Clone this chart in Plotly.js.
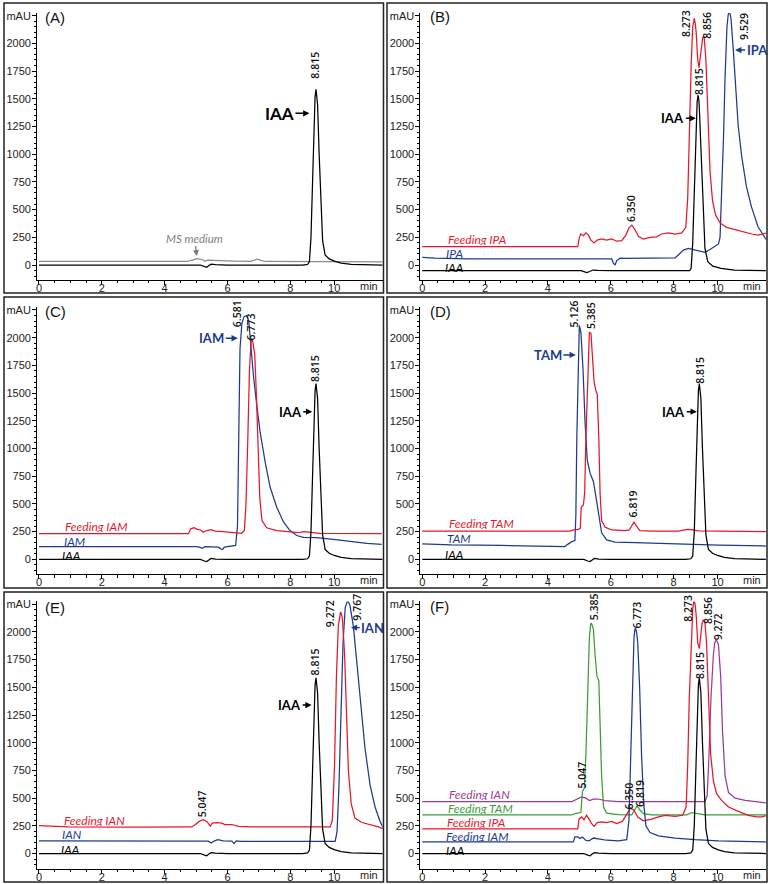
<!DOCTYPE html>
<html><head><meta charset="utf-8">
<script src="https://cdn.plot.ly/plotly-3.0.1.min.js"></script>
<style>html,body{margin:0;padding:0;background:#fff}#chart{width:770px;height:884px}</style>
</head><body><div id="chart"></div>
<script>
// ---------- DATA (time in min, absorbance in mAU) ----------
const iaaStd = [[0,0],[5.14,0],[5.27,-15],[5.34,-20],[5.41,-5],[5.48,8],[5.62,3],[6.0,0],[8.39,0],[8.55,5],[8.61,30],[8.66,250],[8.71,750],[8.76,1300],[8.79,1520],[8.82,1585],[8.85,1530],[8.87,1450],[8.92,1000],[8.98,500],[9.03,220],[9.11,90],[9.24,55],[9.40,35],[9.62,18],[9.94,7],[10.36,2],[10.95,0]];
const msMedium = [[0,32],[3.0,30],[4.72,32],[4.88,45],[5.04,57],[5.18,50],[5.27,36],[5.38,45],[5.57,42],[6.21,36],[6.74,33],[6.87,48],[6.95,52],[7.06,42],[7.22,32],[10.95,28]];

const iaaB = [[0,-50],[5.06,-50],[5.17,-62],[5.24,-68],[5.33,-58],[5.43,-45],[5.59,-48],[6.02,-50],[8.51,-50],[8.56,-30],[8.61,200],[8.66,700],[8.72,1250],[8.75,1470],[8.78,1534],[8.81,1480],[8.83,1350],[8.89,900],[8.94,450],[9.00,150],[9.09,30],[9.25,-10],[9.51,-30],[9.94,-45],[10.94,-50]];
const feedIPA_B = [[0,165],[4.95,165],[5.00,250],[5.05,280],[5.13,265],[5.21,290],[5.29,270],[5.37,225],[5.47,200],[5.57,225],[5.71,235],[5.87,225],[6.03,235],[6.19,215],[6.35,220],[6.48,270],[6.58,335],[6.67,360],[6.77,320],[6.88,260],[7.04,235],[7.25,250],[7.46,255],[7.62,280],[7.83,290],[8.05,280],[8.26,290],[8.39,340],[8.45,600],[8.50,1200],[8.56,1800],[8.61,2150],[8.64,2215],[8.66,2225],[8.69,2180],[8.72,2100],[8.77,1850],[8.81,1780],[8.86,1900],[8.90,2020],[8.93,2055],[8.96,2060],[8.98,2040],[9.03,1850],[9.09,1400],[9.16,850],[9.24,580],[9.34,450],[9.48,380],[9.69,340],[9.96,320],[10.22,300],[10.49,280],[10.70,270],[10.86,280],[10.97,290]];
const ipaStd = [[0,70],[0.40,62],[1.46,55],[6.03,55],[6.08,20],[6.14,0],[6.19,40],[6.30,62],[6.45,60],[8.05,65],[8.15,90],[8.31,135],[8.47,150],[8.63,140],[8.84,120],[9.00,115],[9.16,140],[9.32,170],[9.43,190],[9.48,250],[9.53,600],[9.59,1150],[9.64,1700],[9.70,2150],[9.74,2260],[9.77,2280],[9.80,2265],[9.83,2220],[9.90,1950],[9.98,1600],[10.06,1250],[10.17,980],[10.32,707],[10.48,525],[10.69,345],[10.97,220]];

const feedIAM_C = [[0,231],[4.76,231],[4.83,275],[4.94,285],[5.04,270],[5.15,265],[5.23,245],[5.34,260],[5.47,268],[5.61,255],[5.87,250],[6.19,240],[6.45,235],[6.54,260],[6.59,500],[6.65,1100],[6.70,1700],[6.75,1960],[6.78,1985],[6.80,1975],[6.84,1920],[6.87,1850],[6.92,1500],[6.97,1000],[7.03,550],[7.10,350],[7.25,285],[7.57,260],[7.99,245],[8.26,240],[8.42,250],[8.63,245],[8.95,235],[10.91,231]];
const iamStd = [[0,115],[5.02,115],[5.13,108],[5.20,100],[5.29,115],[5.55,115],[5.71,110],[5.79,95],[5.85,90],[5.90,110],[6.08,118],[6.26,125],[6.32,300],[6.36,1000],[6.40,1900],[6.46,2130],[6.53,2190],[6.61,2200],[6.68,2150],[6.74,1950],[6.83,1650],[6.93,1400],[7.04,1150],[7.20,880],[7.36,650],[7.57,470],[7.78,340],[7.99,260],[8.21,215],[8.42,198],[8.84,195],[9.37,180],[9.90,160],[10.44,145],[10.91,135]];

const feedTAM_D = [[0,254],[4.70,254],[4.81,265],[4.97,270],[5.03,280],[5.06,470],[5.13,490],[5.17,600],[5.21,1100],[5.27,1750],[5.32,2050],[5.37,2040],[5.42,1850],[5.47,1600],[5.53,1520],[5.57,1490],[5.62,1100],[5.66,600],[5.71,350],[5.82,290],[6.03,265],[6.45,258],[6.59,265],[6.67,310],[6.74,335],[6.82,300],[6.93,260],[7.30,254],[8.15,255],[8.42,270],[8.58,268],[8.79,256],[10.97,250]];
const tamStd = [[0,140],[0.93,130],[2.53,125],[4.54,115],[4.63,135],[4.76,160],[4.86,170],[4.89,400],[4.92,1100],[4.96,1800],[5.00,2110],[5.05,2050],[5.12,1700],[5.18,1250],[5.25,900],[5.34,780],[5.45,700],[5.52,580],[5.61,400],[5.71,240],[5.87,175],[6.14,155],[6.77,150],[7.83,140],[9.43,128],[10.97,120]];

const feedIAN_E = [[0,252],[0.93,240],[3.06,238],[4.86,240],[4.97,260],[5.10,290],[5.23,306],[5.36,285],[5.45,248],[5.52,275],[5.66,280],[5.82,275],[5.92,262],[6.14,262],[6.35,245],[6.77,240],[9.27,240],[9.34,300],[9.41,800],[9.47,1600],[9.53,2050],[9.57,2160],[9.60,2180],[9.63,2160],[9.66,2120],[9.73,1800],[9.79,1200],[9.85,750],[9.94,450],[10.06,320],[10.28,280],[10.59,260],[10.81,240],[10.97,220]];
const ianStd = [[0,114],[4.65,112],[5.39,112],[5.48,95],[5.56,110],[5.69,125],[5.87,115],[6.14,112],[6.21,90],[6.28,115],[6.45,110],[9.43,110],[9.49,200],[9.55,600],[9.62,1300],[9.68,1900],[9.75,2220],[9.79,2270],[9.82,2280],[9.86,2265],[9.90,2240],[10.01,2050],[10.11,1750],[10.22,1400],[10.38,950],[10.54,620],[10.70,420],[10.86,290],[10.97,225]];

const feedIAN_F = [[0,468],[4.76,468],[4.92,490],[5.07,510],[5.21,500],[5.32,478],[5.45,490],[5.61,492],[5.82,478],[6.24,468],[9.00,468],[9.07,520],[9.13,900],[9.19,1400],[9.27,1800],[9.31,1900],[9.35,1925],[9.39,1915],[9.43,1880],[9.50,1600],[9.56,1100],[9.64,700],[9.75,550],[9.96,500],[10.28,480],[10.59,470],[10.97,456]];
const feedTAM_F = [[0,348],[4.76,348],[4.86,360],[5.05,370],[5.10,560],[5.16,590],[5.21,900],[5.27,1500],[5.32,1950],[5.36,2070],[5.38,2080],[5.41,2060],[5.45,2020],[5.50,1800],[5.56,1600],[5.62,1560],[5.66,1200],[5.71,700],[5.77,420],[5.87,365],[6.24,352],[6.67,350],[6.75,390],[6.84,430],[6.92,395],[7.04,360],[7.30,350],[8.42,350],[8.58,370],[8.74,360],[9.00,350],[10.97,348]];
const feedIPA_F = [[0,222],[4.95,222],[4.99,310],[5.07,330],[5.15,305],[5.23,345],[5.31,310],[5.39,270],[5.47,245],[5.57,280],[5.71,285],[5.87,280],[6.03,290],[6.19,270],[6.37,290],[6.51,360],[6.63,410],[6.74,390],[6.86,330],[7.04,295],[7.30,310],[7.52,330],[7.73,345],[8.05,335],[8.29,345],[8.40,420],[8.45,800],[8.50,1400],[8.56,1900],[8.61,2200],[8.64,2270],[8.66,2285],[8.69,2240],[8.72,2150],[8.77,1900],[8.82,1850],[8.87,1980],[8.91,2080],[8.95,2110],[9.00,2080],[9.05,1900],[9.11,1450],[9.18,900],[9.27,650],[9.37,540],[9.53,480],[9.75,420],[10.06,380],[10.38,345],[10.64,330],[10.81,330],[10.97,345]];
const feedIAM_F = [[0,105],[4.81,105],[4.86,150],[4.95,150],[5.02,135],[5.10,148],[5.20,120],[5.31,115],[5.45,140],[5.61,130],[5.87,120],[6.24,115],[6.51,125],[6.58,300],[6.63,800],[6.69,1500],[6.74,1950],[6.77,2025],[6.79,2030],[6.82,2000],[6.86,1900],[6.92,1500],[6.98,900],[7.05,450],[7.12,250],[7.25,190],[7.52,160],[8.05,140],[8.68,125],[9.43,115],[10.97,105]];

const xTickLabels = ['0','2','4','6','8','10'];
const yTickLabels = ['0','250','500','750','1000','1250','1500','1750','2000','mAU'];

// ---------- STYLE ----------
const C = {blue:'#1d3a8f', red:'#e5172b', green:'#3a9c3a', purple:'#9b3a9b', gray:'#8a8a8a', black:'#000'};
const sfx = n => n === 1 ? '' : String(n);

function tr(pairs, color, n){
  return {x: pairs.map(p=>p[0]), y: pairs.map(p=>p[1]), mode:'lines', type:'scatter',
    line:{color:color, width:1.25}, xaxis:'x'+sfx(n), yaxis:'y'+sfx(n), hoverinfo:'skip', showlegend:false};
}
const data = [
  tr(msMedium, C.gray, 1), tr(iaaStd, C.black, 1),
  tr(ipaStd, C.blue, 2), tr(feedIPA_B, C.red, 2), tr(iaaB, C.black, 2),
  tr(iamStd, C.blue, 3), tr(feedIAM_C, C.red, 3), tr(iaaStd, C.black, 3),
  tr(tamStd, C.blue, 4), tr(feedTAM_D, C.red, 4), tr(iaaStd, C.black, 4),
  tr(ianStd, C.blue, 5), tr(feedIAN_E, C.red, 5), tr(iaaStd, C.black, 5),
  tr(feedIAN_F, C.purple, 6), tr(feedTAM_F, C.green, 6), tr(feedIPA_F, C.red, 6), tr(feedIAM_F, C.blue, 6), tr(iaaStd, C.black, 6)
];

const ann = [];
function peak(n, x, y, text){
  ann.push({xref:'x'+sfx(n), yref:'y'+sfx(n), x:x, y:y, text:text, textangle:-90, showarrow:false,
    font:{family:'Open Sans, sans-serif', size:10.5, weight:600, color:'#111'}});
}
function lab(n, x, y, text, color){
  ann.push({xref:'x'+sfx(n), yref:'y'+sfx(n), x:x, y:y, text:'<i>'+text+'</i>', xanchor:'left', yanchor:'middle', showarrow:false,
    borderpad:0, height:12, font:{family:'Lato, sans-serif', size:12, color:color}});
}
function arr(n, x, y, text, color, ax, size){
  ann.push({xref:'x'+sfx(n), yref:'y'+sfx(n), x:x, y:y, text:'<b>'+text+'</b>', showarrow:true, ax:ax, ay:0,
    arrowhead:2, arrowsize:0.9, arrowwidth:1.4, arrowcolor:color, standoff:0,
    font:{family:'Lato, sans-serif', size:size||13, color:color}});
}
function panel(n, x, y, text){
  ann.push({xref:'x'+sfx(n), yref:'y'+sfx(n), x:x, y:y, text:text, xanchor:'left', yanchor:'middle', showarrow:false,
    font:{family:'Liberation Sans, Arial, sans-serif', size:15, color:'#111'}});
}
function minLab(n){
  ann.push({xref:'x'+sfx(n), yref:'y'+sfx(n)+' domain', x:10.5, y:0, yanchor:'top', yshift:1, text:'min', showarrow:false,
    borderpad:0, font:{family:'Liberation Sans, Arial, sans-serif', size:11, color:'#222'}});
}

// A
panel(1,0.12,2235,'(A)'); peak(1,8.79,1799,'8.815'); arr(1,8.61,1369,'IAA',C.black,-30,17);
ann.push({xref:'x',yref:'y',x:5.02,y:81,ax:-2,ay:-18,text:'<i>MS medium</i>',showarrow:true,arrowhead:2,arrowsize:0.9,arrowwidth:1.3,arrowcolor:'#777',standoff:0,
  font:{family:'Lato, sans-serif',size:11.5,color:'#808080'}});
// B
panel(2,0.17,2240,'(B)'); peak(2,8.42,2181,'8.273'); peak(2,9.06,2166,'8.856'); peak(2,10.22,2151,'9.529'); peak(2,8.79,1654,'8.815'); peak(2,6.67,512,'6.350');
lab(2,0.78,232,'Feeding IPA',C.red); lab(2,0.72,110,'IPA',C.blue); lab(2,0.70,-22,'IAA',C.black);
arr(2,8.71,1324,'IAA',C.black,-23); arr(2,9.96,1940,'IPA',C.blue,22);
// C
panel(3,0.12,2235,'(C)'); peak(3,6.30,2220,'6.581'); peak(3,6.74,2099,'6.773'); peak(3,8.79,1717,'8.815');
lab(3,0.80,298,'Feeding IAM',C.red); lab(3,0.75,168,'IAM',C.blue); lab(3,0.70,38,'IAA',C.black);
arr(3,6.33,1995,'IAM',C.blue,-26); arr(3,8.70,1332,'IAA',C.black,-22);
// D
panel(4,0.17,2235,'(D)'); peak(4,4.83,2219,'5.126'); peak(4,5.37,2204,'5.385'); peak(4,6.72,499,'6.819'); peak(4,8.84,1710,'8.815');
lab(4,0.81,330,'Feeding TAM',C.red); lab(4,0.75,190,'TAM',C.blue); lab(4,0.70,52,'IAA',C.black);
arr(4,4.89,1844,'TAM',C.blue,-28); arr(4,8.74,1332,'IAA',C.black,-23);
// E
panel(5,0.12,2220,'(E)'); peak(5,5.18,450,'5.047'); peak(5,8.79,1725,'8.815'); peak(5,9.29,2166,'9.272'); peak(5,10.10,2220,'9.767');
lab(5,0.75,304,'Feeding IAN',C.red); lab(5,0.70,172,'IAN',C.blue); lab(5,0.67,44,'IAA',C.black);
arr(5,8.68,1340,'IAA',C.black,-22); arr(5,9.93,2038,'IAN',C.blue,22);
// F
panel(6,0.17,2230,'(F)'); peak(6,5.08,711,'5.047'); peak(6,5.45,2226,'5.385'); peak(6,6.85,2151,'6.773'); peak(6,6.59,516,'6.350'); peak(6,6.93,546,'6.819');
peak(6,8.47,2211,'8.273'); peak(6,9.09,2196,'8.856'); peak(6,9.40,2046,'9.272'); peak(6,8.84,1701,'8.815');
lab(6,0.81,540,'Feeding IAN',C.purple); lab(6,0.79,408,'Feeding TAM',C.green); lab(6,0.75,281,'Feeding IPA',C.red); lab(6,0.72,160,'Feeding IAM',C.blue); lab(6,0.72,36,'IAA',C.black);
for (let n=1;n<=6;n++) minLab(n);

// ---------- LAYOUT ----------
const tickFont = {family:'Liberation Sans, Arial, sans-serif', size:11, color:'#222'};
const colDom = [[0.04818,0.49688],[0.54597,0.99468]];
const rowDom = [[0.68326,0.98541],[0.35034,0.65249],[0.01753,0.31968]];
const layout = {width:770, height:884, margin:{l:0,r:0,t:0,b:0}, paper_bgcolor:'#fff', plot_bgcolor:'#fff', showlegend:false, annotations:ann, shapes:[]};
for (let n=1;n<=6;n++){
  const col=(n-1)%2, row=Math.floor((n-1)/2);
  layout['xaxis'+sfx(n)] = {domain:colDom[col], anchor:'y'+sfx(n), range:[-0.06,10.94], showline:true, linecolor:'#000', linewidth:1,
    ticks:'outside', ticklen:4, tickcolor:'#000', tickwidth:1, tickmode:'array', tickvals:[0,2,4,6,8,9.4], ticktext:xTickLabels,
    minor:{ticks:'outside', tickmode:'array', tickvals:[0.5,1,1.5,2.5,3,3.5,4.5,5,5.5,6.5,7,7.5,8.5,9], ticklen:2.5, tickcolor:'#000'},
    showgrid:false, zeroline:false, tickfont:tickFont, ticklabelstandoff:-6, fixedrange:true};
  layout['yaxis'+sfx(n)] = {domain:rowDom[row], anchor:'x'+sfx(n), range:[-135,2275], showline:true, linecolor:'#000', linewidth:1,
    ticks:'outside', ticklen:4, tickcolor:'#000', tickwidth:1, tickmode:'array', tickvals:[0,250,500,750,1000,1250,1500,1750,2000,2250], ticktext:yTickLabels,
    minor:{ticks:'outside', dtick:50, tick0:0, ticklen:2.5, tickcolor:'#000'},
    showgrid:false, zeroline:false, tickfont:tickFont, ticklabelstandoff:-1, fixedrange:true};
}
const px = v=>v/770, py = v=>1-v/884;
[[4,383.5,3,293],[387,767,3,293],[4,383.5,297,588],[387,767,297,588],[4,383.5,592,882],[387,767,592,882]].forEach(b=>{
  layout.shapes.push({type:'rect', xref:'paper', yref:'paper', x0:px(b[0]), x1:px(b[1]), y0:py(b[3]), y1:py(b[2]), line:{color:'#222', width:1.5}, fillcolor:'rgba(0,0,0,0)'});
});
Plotly.newPlot('chart', data, layout, {staticPlot:true, displayModeBar:false});
</script></body></html>
